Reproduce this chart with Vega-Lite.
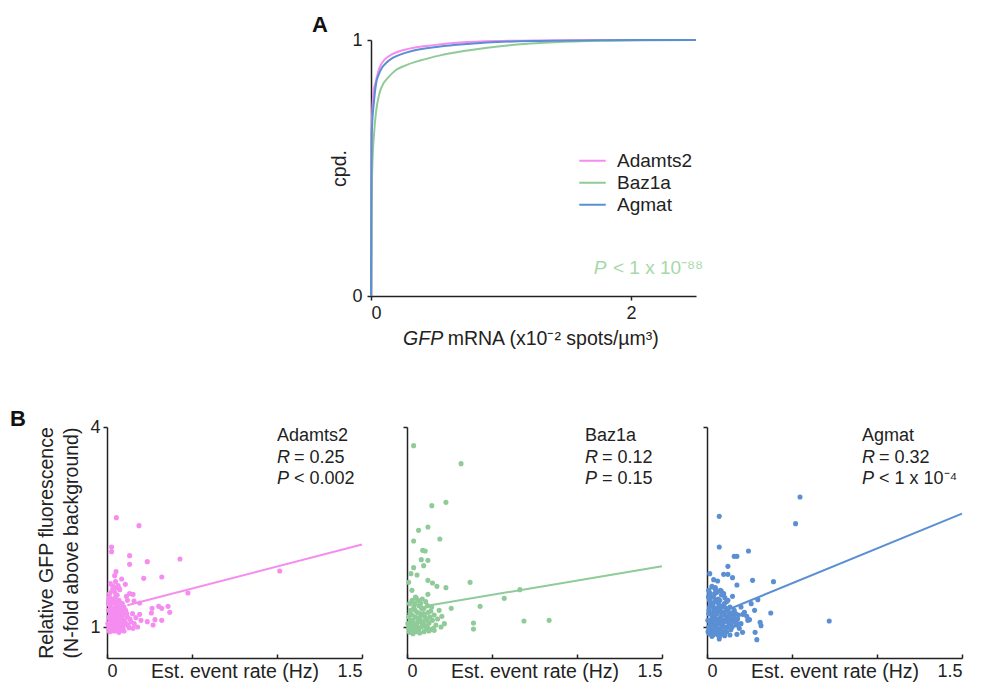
{
  "$schema": "https://vega.github.io/schema/vega-lite/v6.json",
  "padding": {"left": 10, "top": 14, "right": 5, "bottom": 5},
  "background": "white",
  "bounds": "flush",
  "spacing": 387,
  "config": {
    "font": "Liberation Sans",
    "view": {"stroke": null},
    "axis": {"domainColor": "#222", "domainWidth": 1.5, "tickColor": "#222", "tickWidth": 1.5, "tickSize": 4, "labelColor": "#222", "titleColor": "#222", "labelFontSize": 18, "titleFontSize": 19.5, "titleFontWeight": "normal", "grid": false, "labelFont": "Liberation Sans", "titleFont": "Liberation Sans", "labelPadding": 4},
    "legend": {"labelFont": "Liberation Sans", "labelColor": "#222"},
    "text": {"font": "Liberation Sans"}
  },
  "datasets": {
    "cdf": [
      {"gene": "Adamts2", "x": 0, "y": 0}, {"gene": "Adamts2", "x": 0.002, "y": 0.35}, {"gene": "Adamts2", "x": 0.005, "y": 0.65}, {"gene": "Adamts2", "x": 0.02, "y": 0.8}, {"gene": "Adamts2", "x": 0.033, "y": 0.83}, {"gene": "Adamts2", "x": 0.064, "y": 0.89}, {"gene": "Adamts2", "x": 0.108, "y": 0.925}, {"gene": "Adamts2", "x": 0.16, "y": 0.944}, {"gene": "Adamts2", "x": 0.224, "y": 0.957}, {"gene": "Adamts2", "x": 0.327, "y": 0.97}, {"gene": "Adamts2", "x": 0.48, "y": 0.98}, {"gene": "Adamts2", "x": 0.687, "y": 0.99}, {"gene": "Adamts2", "x": 1.0, "y": 0.996}, {"gene": "Adamts2", "x": 1.5, "y": 0.999}, {"gene": "Adamts2", "x": 2.5, "y": 1},
      {"gene": "Baz1a", "x": 0, "y": 0}, {"gene": "Baz1a", "x": 0.003, "y": 0.2}, {"gene": "Baz1a", "x": 0.005, "y": 0.37}, {"gene": "Baz1a", "x": 0.01, "y": 0.5}, {"gene": "Baz1a", "x": 0.023, "y": 0.63}, {"gene": "Baz1a", "x": 0.039, "y": 0.72}, {"gene": "Baz1a", "x": 0.064, "y": 0.79}, {"gene": "Baz1a", "x": 0.095, "y": 0.83}, {"gene": "Baz1a", "x": 0.126, "y": 0.85}, {"gene": "Baz1a", "x": 0.185, "y": 0.88}, {"gene": "Baz1a", "x": 0.262, "y": 0.9}, {"gene": "Baz1a", "x": 0.378, "y": 0.92}, {"gene": "Baz1a", "x": 0.533, "y": 0.94}, {"gene": "Baz1a", "x": 0.713, "y": 0.957}, {"gene": "Baz1a", "x": 0.893, "y": 0.97}, {"gene": "Baz1a", "x": 1.15, "y": 0.983}, {"gene": "Baz1a", "x": 1.41, "y": 0.991}, {"gene": "Baz1a", "x": 1.77, "y": 0.997}, {"gene": "Baz1a", "x": 2.2, "y": 0.9995}, {"gene": "Baz1a", "x": 2.5, "y": 1},
      {"gene": "Agmat", "x": 0, "y": 0}, {"gene": "Agmat", "x": 0.002, "y": 0.3}, {"gene": "Agmat", "x": 0.005, "y": 0.63}, {"gene": "Agmat", "x": 0.023, "y": 0.76}, {"gene": "Agmat", "x": 0.039, "y": 0.83}, {"gene": "Agmat", "x": 0.059, "y": 0.865}, {"gene": "Agmat", "x": 0.082, "y": 0.89}, {"gene": "Agmat", "x": 0.116, "y": 0.91}, {"gene": "Agmat", "x": 0.167, "y": 0.93}, {"gene": "Agmat", "x": 0.224, "y": 0.943}, {"gene": "Agmat", "x": 0.314, "y": 0.957}, {"gene": "Agmat", "x": 0.456, "y": 0.97}, {"gene": "Agmat", "x": 0.636, "y": 0.98}, {"gene": "Agmat", "x": 0.893, "y": 0.99}, {"gene": "Agmat", "x": 1.25, "y": 0.996}, {"gene": "Agmat", "x": 1.8, "y": 0.999}, {"gene": "Agmat", "x": 2.5, "y": 1}
    ],
    "a_italic": [{"x": 0.247, "y": -0.19, "t": "GFP"}],
    "a_text": [{"x": 0.59, "y": -0.19, "t": "mRNA (x10⁻² spots/µm³)"}],
    "a_p_italic": [{"x": 1.714, "y": 0.086, "t": "P"}],
    "a_p_text": [{"x": 1.861, "y": 0.086, "t": "< 1 x 10⁻⁸⁸"}],
    "adamts2": [
      {"x": 0.055, "y": 2.64}, {"x": 0.188, "y": 2.52}, {"x": 0.027, "y": 2.2}, {"x": 0.027, "y": 2.13}, {"x": 0.133, "y": 2.07}, {"x": 0.429, "y": 2.02}, {"x": 0.237, "y": 1.98}, {"x": 0.133, "y": 1.94}, {"x": 0.053, "y": 1.83}, {"x": 0.045, "y": 1.77}, {"x": 0.216, "y": 1.73}, {"x": 0.322, "y": 1.75}, {"x": 1.016, "y": 1.84}, {"x": 0.086, "y": 1.72}, {"x": 0.108, "y": 1.64}, {"x": 0.035, "y": 1.61}, {"x": 0.055, "y": 1.59}, {"x": 0.071, "y": 1.58}, {"x": 0.476, "y": 1.51}, {"x": 0.133, "y": 1.5}, {"x": 0.153, "y": 1.49}, {"x": 0.114, "y": 1.46}, {"x": 0.159, "y": 1.39}, {"x": 0.192, "y": 1.36}, {"x": 0.265, "y": 1.28}, {"x": 0.304, "y": 1.31}, {"x": 0.359, "y": 1.31}, {"x": 0.369, "y": 1.22}, {"x": 0.322, "y": 1.28}, {"x": 0.261, "y": 1.21}, {"x": 0.282, "y": 1.11}, {"x": 0.322, "y": 1.1}, {"x": 0.237, "y": 1.08}, {"x": 0.271, "y": 1.03}, {"x": 0.153, "y": 0.98}, {"x": 0.192, "y": 1.19},
      {"x": 0.01, "y": 1.02}, {"x": 0.02, "y": 0.96}, {"x": 0.03, "y": 1.05}, {"x": 0.015, "y": 1.12}, {"x": 0.025, "y": 1.2}, {"x": 0.035, "y": 0.99}, {"x": 0.04, "y": 1.1}, {"x": 0.045, "y": 1.15}, {"x": 0.05, "y": 1.03}, {"x": 0.055, "y": 0.97}, {"x": 0.06, "y": 1.08}, {"x": 0.065, "y": 1.18}, {"x": 0.07, "y": 1.01}, {"x": 0.075, "y": 1.12}, {"x": 0.08, "y": 0.95}, {"x": 0.085, "y": 1.06}, {"x": 0.09, "y": 1.22}, {"x": 0.095, "y": 1.0}, {"x": 0.1, "y": 1.1}, {"x": 0.11, "y": 1.05}, {"x": 0.12, "y": 1.15}, {"x": 0.13, "y": 0.99}, {"x": 0.14, "y": 1.08}, {"x": 0.15, "y": 1.2}, {"x": 0.02, "y": 1.3}, {"x": 0.03, "y": 1.38}, {"x": 0.04, "y": 1.28}, {"x": 0.05, "y": 1.45}, {"x": 0.06, "y": 1.33}, {"x": 0.07, "y": 1.4}, {"x": 0.08, "y": 1.27}, {"x": 0.09, "y": 1.35}, {"x": 0.1, "y": 1.3}, {"x": 0.11, "y": 1.25}, {"x": 0.12, "y": 1.4}, {"x": 0.015, "y": 1.5}, {"x": 0.03, "y": 1.55}, {"x": 0.045, "y": 1.52}, {"x": 0.06, "y": 1.48}, {"x": 0.075, "y": 1.56}, {"x": 0.02, "y": 1.65}, {"x": 0.035, "y": 1.6}, {"x": 0.05, "y": 1.68}, {"x": 0.065, "y": 1.62}, {"x": 0.015, "y": 0.93}, {"x": 0.045, "y": 0.94}, {"x": 0.07, "y": 0.92}, {"x": 0.1, "y": 0.94}, {"x": 0.025, "y": 1.08}, {"x": 0.035, "y": 1.14}, {"x": 0.055, "y": 1.24}, {"x": 0.065, "y": 1.06}, {"x": 0.075, "y": 1.2}, {"x": 0.085, "y": 1.16}, {"x": 0.095, "y": 1.26}, {"x": 0.105, "y": 1.18}, {"x": 0.125, "y": 1.02}, {"x": 0.135, "y": 1.12}, {"x": 0.16, "y": 1.05}, {"x": 0.17, "y": 1.14}, {"x": 0.18, "y": 1.0}, {"x": 0.2, "y": 1.1}, {"x": 0.01, "y": 1.25}, {"x": 0.01, "y": 1.4}, {"x": 0.04, "y": 1.2}, {"x": 0.05, "y": 1.1}, {"x": 0.03, "y": 1.0}, {"x": 0.06, "y": 0.98},
      {"x": 0.005, "y": 1.05}, {"x": 0.012, "y": 1.15}, {"x": 0.018, "y": 1.32}, {"x": 0.022, "y": 1.0}, {"x": 0.028, "y": 1.27}, {"x": 0.032, "y": 1.12}, {"x": 0.038, "y": 1.36}, {"x": 0.042, "y": 1.02}, {"x": 0.048, "y": 1.22}, {"x": 0.052, "y": 1.35}, {"x": 0.058, "y": 1.16}, {"x": 0.062, "y": 1.26}, {"x": 0.068, "y": 1.3}, {"x": 0.072, "y": 1.14}, {"x": 0.078, "y": 1.04}, {"x": 0.082, "y": 1.36}, {"x": 0.088, "y": 1.1}, {"x": 0.092, "y": 1.28}, {"x": 0.098, "y": 1.18}, {"x": 0.008, "y": 1.35}, {"x": 0.014, "y": 1.45}, {"x": 0.026, "y": 1.42}, {"x": 0.044, "y": 1.4}, {"x": 0.056, "y": 1.05}, {"x": 0.066, "y": 0.95}, {"x": 0.086, "y": 0.98}, {"x": 0.106, "y": 1.08}, {"x": 0.116, "y": 1.2}, {"x": 0.012, "y": 0.98}, {"x": 0.024, "y": 0.94}
    ],
    "adamts2_fit": [{"x": 0.12, "y": 1.325}, {"x": 1.5, "y": 2.237}],
    "adamts2_italic": [{"x": 1.0, "y": 3.46, "t": "R"}, {"x": 1.0, "y": 3.145, "t": "P"}],
    "adamts2_text": [{"x": 1.0, "y": 3.79, "t": "Adamts2"}, {"x": 1.1, "y": 3.46, "t": "= 0.25"}, {"x": 1.1, "y": 3.145, "t": "< 0.002"}],
    "baz1a": [
      {"x": 0.039, "y": 3.72}, {"x": 0.318, "y": 3.45}, {"x": 0.229, "y": 2.87}, {"x": 0.146, "y": 2.82}, {"x": 0.123, "y": 2.5}, {"x": 0.068, "y": 2.45}, {"x": 0.039, "y": 2.29}, {"x": 0.193, "y": 2.32}, {"x": 0.092, "y": 2.15}, {"x": 0.107, "y": 2.14}, {"x": 0.084, "y": 2.01}, {"x": 0.123, "y": 2.0}, {"x": 0.098, "y": 1.92}, {"x": 0.039, "y": 1.89}, {"x": 0.023, "y": 1.8}, {"x": 0.059, "y": 1.78}, {"x": 0.123, "y": 1.7}, {"x": 0.15, "y": 1.66}, {"x": 0.176, "y": 1.61}, {"x": 0.229, "y": 1.59}, {"x": 0.01, "y": 1.67}, {"x": 0.371, "y": 1.67}, {"x": 0.029, "y": 1.55}, {"x": 0.055, "y": 1.43}, {"x": 0.123, "y": 1.49}, {"x": 0.664, "y": 1.56}, {"x": 0.572, "y": 1.43}, {"x": 0.43, "y": 1.31}, {"x": 0.26, "y": 1.28}, {"x": 0.189, "y": 1.25}, {"x": 0.205, "y": 1.16}, {"x": 0.391, "y": 1.06}, {"x": 0.391, "y": 0.97}, {"x": 0.688, "y": 1.09}, {"x": 0.836, "y": 1.1},
      {"x": 0.01, "y": 1.0}, {"x": 0.02, "y": 1.1}, {"x": 0.03, "y": 0.95}, {"x": 0.04, "y": 1.05}, {"x": 0.05, "y": 1.15}, {"x": 0.06, "y": 0.98}, {"x": 0.07, "y": 1.08}, {"x": 0.08, "y": 1.2}, {"x": 0.09, "y": 1.02}, {"x": 0.1, "y": 0.93}, {"x": 0.11, "y": 1.12}, {"x": 0.12, "y": 1.0}, {"x": 0.13, "y": 1.06}, {"x": 0.14, "y": 0.96}, {"x": 0.15, "y": 1.1}, {"x": 0.16, "y": 1.18}, {"x": 0.17, "y": 1.03}, {"x": 0.18, "y": 1.12}, {"x": 0.02, "y": 1.25}, {"x": 0.04, "y": 1.3}, {"x": 0.06, "y": 1.22}, {"x": 0.08, "y": 1.35}, {"x": 0.1, "y": 1.28}, {"x": 0.12, "y": 1.32}, {"x": 0.14, "y": 1.24}, {"x": 0.03, "y": 1.4}, {"x": 0.05, "y": 1.45}, {"x": 0.09, "y": 1.42}, {"x": 0.11, "y": 1.38}, {"x": 0.015, "y": 0.92}, {"x": 0.035, "y": 0.9}, {"x": 0.055, "y": 0.93}, {"x": 0.075, "y": 0.91}, {"x": 0.095, "y": 1.05}, {"x": 0.115, "y": 0.97}, {"x": 0.135, "y": 1.15}, {"x": 0.155, "y": 0.98}, {"x": 0.025, "y": 1.02}, {"x": 0.045, "y": 0.97}, {"x": 0.065, "y": 1.12}, {"x": 0.085, "y": 1.0}, {"x": 0.105, "y": 1.16}, {"x": 0.125, "y": 1.22}, {"x": 0.145, "y": 1.3}, {"x": 0.16, "y": 0.95}, {"x": 0.2, "y": 1.0}, {"x": 0.22, "y": 1.05}, {"x": 0.07, "y": 1.32}, {"x": 0.01, "y": 1.15}, {"x": 0.03, "y": 1.18},
      {"x": 0.005, "y": 1.05}, {"x": 0.012, "y": 0.97}, {"x": 0.018, "y": 1.2}, {"x": 0.028, "y": 1.08}, {"x": 0.038, "y": 1.0}, {"x": 0.048, "y": 1.25}, {"x": 0.058, "y": 1.05}, {"x": 0.068, "y": 0.95}, {"x": 0.078, "y": 1.15}, {"x": 0.088, "y": 1.08}, {"x": 0.098, "y": 1.2}, {"x": 0.108, "y": 1.02}, {"x": 0.118, "y": 1.1}, {"x": 0.128, "y": 0.94}, {"x": 0.015, "y": 1.35}, {"x": 0.045, "y": 1.35}, {"x": 0.065, "y": 1.4}, {"x": 0.085, "y": 1.28}, {"x": 0.035, "y": 1.1}, {"x": 0.055, "y": 1.02}
    ],
    "baz1a_fit": [{"x": 0.12, "y": 1.319}, {"x": 1.5, "y": 1.91}],
    "baz1a_italic": [{"x": 1.047, "y": 3.46, "t": "R"}, {"x": 1.047, "y": 3.145, "t": "P"}],
    "baz1a_text": [{"x": 1.047, "y": 3.79, "t": "Baz1a"}, {"x": 1.147, "y": 3.46, "t": "= 0.12"}, {"x": 1.147, "y": 3.145, "t": "= 0.15"}],
    "agmat": [
      {"x": 0.547, "y": 2.95}, {"x": 0.072, "y": 2.66}, {"x": 0.521, "y": 2.55}, {"x": 0.072, "y": 2.2}, {"x": 0.244, "y": 2.14}, {"x": 0.16, "y": 2.06}, {"x": 0.176, "y": 2.06}, {"x": 0.123, "y": 1.91}, {"x": 0.016, "y": 1.8}, {"x": 0.098, "y": 1.79}, {"x": 0.123, "y": 1.79}, {"x": 0.039, "y": 1.71}, {"x": 0.0625, "y": 1.69}, {"x": 0.15, "y": 1.74}, {"x": 0.268, "y": 1.7}, {"x": 0.391, "y": 1.68}, {"x": 0.176, "y": 1.63}, {"x": 0.029, "y": 1.61}, {"x": 0.049, "y": 1.59}, {"x": 0.084, "y": 1.54}, {"x": 0.016, "y": 1.51}, {"x": 0.123, "y": 1.4}, {"x": 0.15, "y": 1.46}, {"x": 0.299, "y": 1.41}, {"x": 0.234, "y": 1.16}, {"x": 0.25, "y": 1.11}, {"x": 0.211, "y": 1.19}, {"x": 0.375, "y": 1.21}, {"x": 0.3125, "y": 1.07}, {"x": 0.318, "y": 1.02}, {"x": 0.719, "y": 1.09}, {"x": 0.283, "y": 0.92}, {"x": 0.293, "y": 0.81}, {"x": 0.209, "y": 0.92}, {"x": 0.176, "y": 0.89}, {"x": 0.072, "y": 0.82}, {"x": 0.029, "y": 0.86},
      {"x": 0.01, "y": 1.0}, {"x": 0.02, "y": 1.1}, {"x": 0.03, "y": 0.95}, {"x": 0.04, "y": 1.05}, {"x": 0.05, "y": 1.2}, {"x": 0.06, "y": 0.98}, {"x": 0.07, "y": 1.08}, {"x": 0.08, "y": 1.15}, {"x": 0.09, "y": 1.02}, {"x": 0.1, "y": 0.92}, {"x": 0.11, "y": 1.12}, {"x": 0.12, "y": 1.0}, {"x": 0.13, "y": 1.06}, {"x": 0.14, "y": 0.96}, {"x": 0.15, "y": 1.1}, {"x": 0.16, "y": 1.25}, {"x": 0.17, "y": 1.03}, {"x": 0.18, "y": 1.12}, {"x": 0.19, "y": 0.98}, {"x": 0.2, "y": 1.05}, {"x": 0.015, "y": 1.3}, {"x": 0.035, "y": 1.35}, {"x": 0.055, "y": 1.28}, {"x": 0.075, "y": 1.4}, {"x": 0.095, "y": 1.32}, {"x": 0.115, "y": 1.38}, {"x": 0.135, "y": 1.3}, {"x": 0.155, "y": 1.22}, {"x": 0.025, "y": 1.45}, {"x": 0.045, "y": 1.5}, {"x": 0.065, "y": 1.42}, {"x": 0.085, "y": 1.48}, {"x": 0.105, "y": 1.44}, {"x": 0.01, "y": 1.55}, {"x": 0.03, "y": 1.6}, {"x": 0.05, "y": 1.56}, {"x": 0.015, "y": 0.9}, {"x": 0.035, "y": 0.88}, {"x": 0.055, "y": 0.92}, {"x": 0.075, "y": 0.86}, {"x": 0.095, "y": 0.9}, {"x": 0.115, "y": 0.93}, {"x": 0.135, "y": 0.88}, {"x": 0.025, "y": 1.05}, {"x": 0.045, "y": 1.15}, {"x": 0.065, "y": 1.22}, {"x": 0.085, "y": 1.03}, {"x": 0.105, "y": 1.18}, {"x": 0.125, "y": 1.14}, {"x": 0.145, "y": 1.2}, {"x": 0.165, "y": 1.08}, {"x": 0.185, "y": 1.18}, {"x": 0.01, "y": 1.2}, {"x": 0.02, "y": 0.97}, {"x": 0.04, "y": 1.25}, {"x": 0.06, "y": 1.12}, {"x": 0.08, "y": 0.97}, {"x": 0.1, "y": 1.1}, {"x": 0.12, "y": 1.26}, {"x": 0.14, "y": 1.04}, {"x": 0.03, "y": 1.15}, {"x": 0.05, "y": 1.02}, {"x": 0.07, "y": 1.3}, {"x": 0.09, "y": 1.2}, {"x": 0.11, "y": 1.0}, {"x": 0.13, "y": 1.16}, {"x": 0.015, "y": 1.4}, {"x": 0.045, "y": 1.38}, {"x": 0.025, "y": 0.93}, {"x": 0.2, "y": 1.3}, {"x": 0.22, "y": 1.22}, {"x": 0.24, "y": 1.1}, {"x": 0.26, "y": 1.35}, {"x": 0.28, "y": 1.25},
      {"x": 0.005, "y": 1.1}, {"x": 0.012, "y": 1.25}, {"x": 0.018, "y": 1.05}, {"x": 0.022, "y": 1.35}, {"x": 0.028, "y": 1.2}, {"x": 0.032, "y": 1.0}, {"x": 0.038, "y": 1.3}, {"x": 0.042, "y": 1.1}, {"x": 0.048, "y": 0.95}, {"x": 0.052, "y": 1.4}, {"x": 0.058, "y": 1.2}, {"x": 0.062, "y": 1.05}, {"x": 0.068, "y": 1.35}, {"x": 0.072, "y": 0.95}, {"x": 0.078, "y": 1.25}, {"x": 0.082, "y": 1.1}, {"x": 0.088, "y": 1.3}, {"x": 0.092, "y": 1.06}, {"x": 0.098, "y": 1.22}, {"x": 0.102, "y": 1.35}, {"x": 0.108, "y": 0.98}, {"x": 0.112, "y": 1.28}, {"x": 0.118, "y": 1.08}, {"x": 0.128, "y": 1.22}, {"x": 0.138, "y": 1.12}, {"x": 0.148, "y": 1.0}, {"x": 0.158, "y": 1.15}, {"x": 0.168, "y": 1.2}, {"x": 0.178, "y": 1.05}, {"x": 0.008, "y": 1.45}, {"x": 0.018, "y": 1.5}, {"x": 0.038, "y": 1.45}, {"x": 0.058, "y": 1.52}, {"x": 0.078, "y": 1.55}, {"x": 0.098, "y": 1.5}, {"x": 0.006, "y": 0.93}, {"x": 0.044, "y": 0.9}, {"x": 0.064, "y": 0.88}, {"x": 0.084, "y": 0.92}, {"x": 0.104, "y": 0.87}
    ],
    "agmat_fit": [{"x": 0.1, "y": 1.237}, {"x": 1.5, "y": 2.7}],
    "agmat_italic": [{"x": 0.912, "y": 3.46, "t": "R"}, {"x": 0.912, "y": 3.145, "t": "P"}],
    "agmat_text": [{"x": 0.912, "y": 3.79, "t": "Agmat"}, {"x": 1.012, "y": 3.46, "t": "= 0.32"}, {"x": 1.012, "y": 3.145, "t": "< 1 x 10⁻⁴"}],
    "empty": []
  },
  "vconcat": [
    {
      "bounds": "flush",
      "spacing": 45,
      "hconcat": [
        {"width": 219, "height": 256, "data": {"name": "empty"}, "mark": "point", "encoding": {}},
        {
          "width": 325,
          "height": 256,
          "title": {"text": "A", "anchor": "start", "frame": "group", "dx": -59, "dy": 6, "offset": 0, "fontSize": 22, "fontWeight": "bold", "font": "Liberation Sans", "color": "#111"},
          "encoding": {
            "x": {"field": "x", "type": "quantitative", "scale": {"domain": [0, 2.5], "nice": false}, "axis": {"values": [0, 2], "format": "d", "title": null, "labelPadding": 4}},
            "y": {"field": "y", "type": "quantitative", "scale": {"domain": [0, 1], "nice": false}, "axis": {"values": [0, 1], "format": "d", "title": "cpd.", "titlePadding": 2, "labelPadding": 5}}
          },
          "layer": [
            {
              "data": {"name": "cdf"},
              "mark": {"type": "line", "strokeWidth": 2, "interpolate": "monotone"},
              "encoding": {
                "color": {"field": "gene", "type": "nominal", "scale": {"domain": ["Adamts2", "Baz1a", "Agmat"], "range": ["#f58cf0", "#8fcb98", "#5b8fd3"]},
                  "legend": {"title": null, "orient": "none", "legendX": 471, "legendY": 110, "symbolType": "stroke", "symbolSize": 700, "symbolStrokeWidth": 2, "labelFontSize": 19, "labelOffset": 10, "rowPadding": 0, "clipHeight": 21.5, "padding": 0}}
              }
            },
            {
              "data": {"name": "a_italic"},
              "mark": {"type": "text", "align": "left", "baseline": "alphabetic", "fontSize": 19.5, "fontStyle": "italic", "color": "#222"},
              "encoding": {"text": {"field": "t"}}
            },
            {
              "data": {"name": "a_text"},
              "mark": {"type": "text", "align": "left", "baseline": "alphabetic", "fontSize": 19.5, "color": "#222"},
              "encoding": {"text": {"field": "t"}}
            },
            {
              "data": {"name": "a_p_italic"},
              "mark": {"type": "text", "align": "left", "baseline": "alphabetic", "fontSize": 19, "fontStyle": "italic", "color": "#a6d8a8"},
              "encoding": {"text": {"field": "t"}}
            },
            {
              "data": {"name": "a_p_text"},
              "mark": {"type": "text", "align": "left", "baseline": "alphabetic", "fontSize": 19, "color": "#a6d8a8"},
              "encoding": {"text": {"field": "t"}}
            }
          ]
        }
      ]
    },
    {
      "bounds": "flush",
      "spacing": 45,
      "hconcat": [
        {
          "width": 255,
          "height": 231,
          "title": {"text": "B", "anchor": "start", "frame": "group", "dx": -97, "dy": 13, "offset": 0, "fontSize": 22, "fontWeight": "bold", "font": "Liberation Sans", "color": "#111"},
          "encoding": {
            "x": {"field": "x", "type": "quantitative", "scale": {"domain": [0, 1.5], "nice": false}, "axis": {"values": [0, 0.5, 1, 1.5], "labelExpr": "datum.value == 0 ? '0' : datum.value == 1.5 ? '1.5' : ''", "title": "Est. event rate (Hz)", "titlePadding": -18, "tickSize": -4, "labelPadding": 8}},
            "y": {"field": "y", "type": "quantitative", "scale": {"domain": [0.535, 4], "nice": false, "zero": false}, "axis": {"values": [1, 4], "title": ["Relative GFP fluorescence", "(N-fold above background)"], "titleLineHeight": 25, "titlePadding": 8, "labelPadding": 3}}
          },
          "layer": [
            {"data": {"name": "adamts2"}, "mark": {"type": "circle", "size": 26, "opacity": 1, "color": "#f58cf0"}},
            {"data": {"name": "adamts2_fit"}, "mark": {"type": "line", "strokeWidth": 2, "color": "#f58cf0"}},
            {"data": {"name": "adamts2_italic"}, "mark": {"type": "text", "align": "left", "baseline": "alphabetic", "fontSize": 18, "fontStyle": "italic", "color": "#222"}, "encoding": {"text": {"field": "t"}}},
            {"data": {"name": "adamts2_text"}, "mark": {"type": "text", "align": "left", "baseline": "alphabetic", "fontSize": 18, "color": "#222"}, "encoding": {"text": {"field": "t"}}}
          ]
        },
        {
          "width": 255,
          "height": 231,
          "encoding": {
            "x": {"field": "x", "type": "quantitative", "scale": {"domain": [0, 1.5], "nice": false}, "axis": {"values": [0, 0.5, 1, 1.5], "labelExpr": "datum.value == 0 ? '0' : datum.value == 1.5 ? '1.5' : ''", "title": "Est. event rate (Hz)", "titlePadding": -18, "tickSize": -4, "labelPadding": 8}},
            "y": {"field": "y", "type": "quantitative", "scale": {"domain": [0.535, 4], "nice": false, "zero": false}, "axis": {"values": [1, 4], "labels": false, "title": null}}
          },
          "layer": [
            {"data": {"name": "baz1a"}, "mark": {"type": "circle", "size": 26, "opacity": 1, "color": "#8fcb98"}},
            {"data": {"name": "baz1a_fit"}, "mark": {"type": "line", "strokeWidth": 2, "color": "#8fcb98"}},
            {"data": {"name": "baz1a_italic"}, "mark": {"type": "text", "align": "left", "baseline": "alphabetic", "fontSize": 18, "fontStyle": "italic", "color": "#222"}, "encoding": {"text": {"field": "t"}}},
            {"data": {"name": "baz1a_text"}, "mark": {"type": "text", "align": "left", "baseline": "alphabetic", "fontSize": 18, "color": "#222"}, "encoding": {"text": {"field": "t"}}}
          ]
        },
        {
          "width": 255,
          "height": 231,
          "encoding": {
            "x": {"field": "x", "type": "quantitative", "scale": {"domain": [0, 1.5], "nice": false}, "axis": {"values": [0, 0.5, 1, 1.5], "labelExpr": "datum.value == 0 ? '0' : datum.value == 1.5 ? '1.5' : ''", "title": "Est. event rate (Hz)", "titlePadding": -18, "tickSize": -4, "labelPadding": 8}},
            "y": {"field": "y", "type": "quantitative", "scale": {"domain": [0.535, 4], "nice": false, "zero": false}, "axis": {"values": [1, 4], "labels": false, "title": null}}
          },
          "layer": [
            {"data": {"name": "agmat"}, "mark": {"type": "circle", "size": 26, "opacity": 1, "color": "#5b8fd3"}},
            {"data": {"name": "agmat_fit"}, "mark": {"type": "line", "strokeWidth": 2, "color": "#5b8fd3"}},
            {"data": {"name": "agmat_italic"}, "mark": {"type": "text", "align": "left", "baseline": "alphabetic", "fontSize": 18, "fontStyle": "italic", "color": "#222"}, "encoding": {"text": {"field": "t"}}},
            {"data": {"name": "agmat_text"}, "mark": {"type": "text", "align": "left", "baseline": "alphabetic", "fontSize": 18, "color": "#222"}, "encoding": {"text": {"field": "t"}}}
          ]
        }
      ]
    }
  ]
}
